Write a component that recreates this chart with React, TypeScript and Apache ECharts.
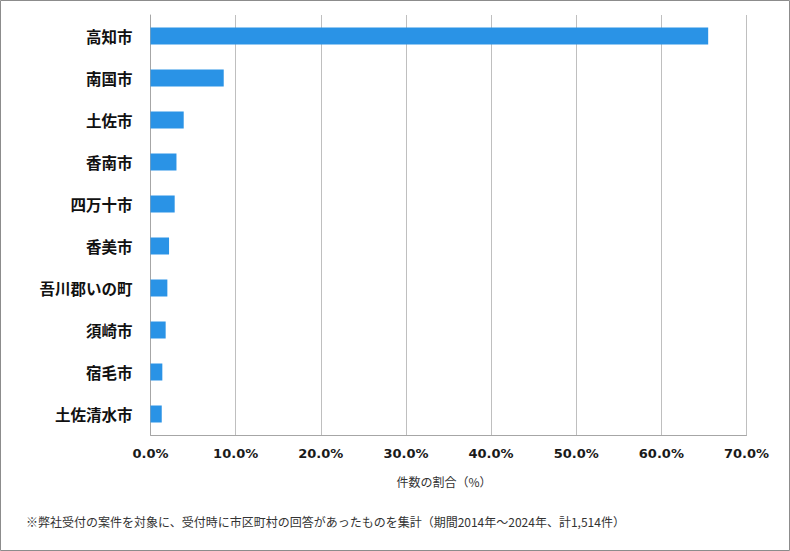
import React, { useEffect, useRef } from "react";
import * as echarts from "echarts";

const categories = ["高知市", "南国市", "土佐市", "香南市", "四万十市", "香美市", "吾川郡いの町", "須崎市", "宿毛市", "土佐清水市"];
const shares = [65.5, 8.6, 3.9, 3.05, 2.84, 2.18, 1.98, 1.78, 1.39, 1.32];
const axisTitle = "件数の割合（%）";
const footnote = "※弊社受付の案件を対象に、受付時に市区町村の回答があったものを集計（期間2014年～2024年、計1,514件）";

export default function App() {
  const ref = useRef<HTMLDivElement>(null);
  useEffect(() => {
    if (!ref.current) return;
    const chart = echarts.init(ref.current, null, { renderer: "svg" });
    chart.setOption({
      animation: false,
      backgroundColor: "#ffffff",
      grid: { left: 150.5, right: 43.5, top: 15, height: 420, containLabel: false },
      xAxis: {
        type: "value",
        min: 0,
        max: 70,
        interval: 10,
        axisLine: { show: true, lineStyle: { color: "#a6a6a6", width: 1 } },
        axisTick: { show: false },
        splitLine: { show: true, lineStyle: { color: "#bfbfbf", width: 1 } },
        axisLabel: {
          margin: 12,
          formatter: (v: number) => v.toFixed(1) + "%",
          fontFamily: "DejaVu Sans",
          fontWeight: "bold",
          fontSize: 13,
          color: "#1a1a1a",
        },
        name: axisTitle,
        nameLocation: "middle",
        nameGap: 40,
        nameTextStyle: {
          fontFamily: "Noto Sans CJK JP",
          fontSize: 12,
          color: "#333333",
          padding: [0, 9, 0, 0],
        },
      },
      yAxis: {
        type: "category",
        data: categories,
        inverse: true,
        axisLine: { show: true, lineStyle: { color: "#a6a6a6", width: 1 } },
        axisTick: { show: false },
        splitLine: { show: false },
        axisLabel: {
          margin: 18,
          fontFamily: "Noto Sans CJK JP",
          fontWeight: "bold",
          fontSize: 15.5,
          color: "#111111",
        },
      },
      series: [
        {
          type: "bar",
          data: shares,
          barWidth: 17,
          itemStyle: { color: "#2a93e6" },
        },
      ],
      graphic: [
        {
          type: "rect",
          shape: { x: 0.5, y: 0.5, width: 789, height: 550 },
          style: { fill: "none", stroke: "#8c8c8c", lineWidth: 1 },
          silent: true,
        },
        {
          type: "text",
          left: 26,
          top: 515,
          style: {
            text: footnote,
            fontFamily: "Noto Sans CJK JP",
            fontSize: 12,
            fill: "#333333",
          },
        },
      ],
    });
    return () => chart.dispose();
  }, []);
  return (
    <div
      ref={ref}
      style={{ position: "absolute", left: 0, top: 0, width: 790, height: 551 }}
    />
  );
}
